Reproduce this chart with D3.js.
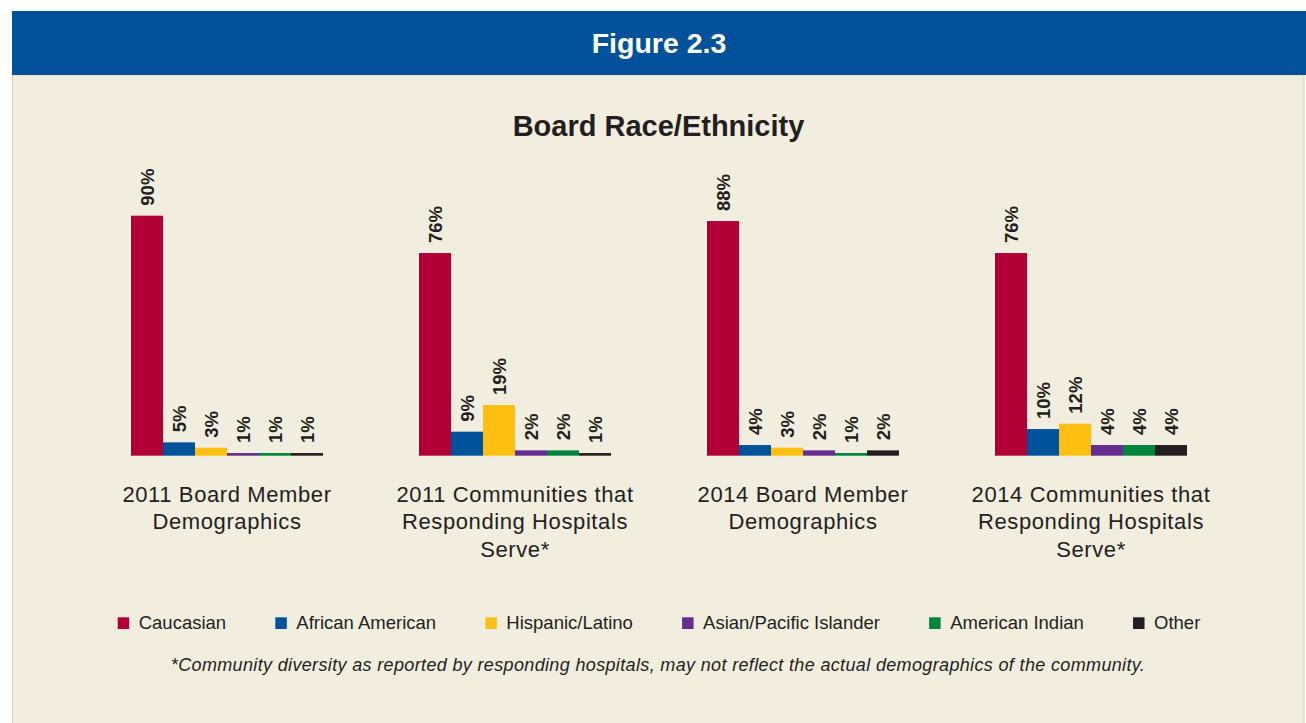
<!DOCTYPE html>
<html>
<head>
<meta charset="utf-8">
<script src="https://cdn.jsdelivr.net/npm/d3@7/dist/d3.min.js"></script>
<style>
  html, body { margin: 0; padding: 0; background: #ffffff; }
  svg { display: block; }
  text { font-family: "Liberation Sans", Arial, Helvetica, sans-serif; }
</style>
</head>
<body>
<svg id="chart" width="1306" height="723"></svg>
<script>
// ---- Data ----
const groups = [
  ["2011 Board Member", "Demographics"],
  ["2011 Communities that", "Responding Hospitals", "Serve*"],
  ["2014 Board Member", "Demographics"],
  ["2014 Communities that", "Responding Hospitals", "Serve*"]
];
const series = ["Caucasian", "African American", "Hispanic/Latino", "Asian/Pacific Islander", "American Indian", "Other"];
const colors = ["#b00036", "#00529b", "#fdc012", "#662d91", "#00843e", "#231f20"];
const caucasian       = [90, 76, 88, 76];
const africanAmerican = [5, 9, 4, 10];
const hispanicLatino  = [3, 19, 3, 12];
const asianPacific    = [1, 2, 2, 4];
const americanIndian  = [1, 2, 1, 4];
const other           = [1, 1, 2, 4];
const seriesValues = [caucasian, africanAmerican, hispanicLatino, asianPacific, americanIndian, other];

const figureLabel = "Figure 2.3";
const chartTitle = "Board Race/Ethnicity";
const footnote = "*Community diversity as reported by responding hospitals, may not reflect the actual demographics of the community.";

// ---- Drawing ----
const svg = d3.select("#chart");
const ink = "#231f20";

// panel background
svg.append("rect").attr("x", 12.5).attr("y", 75).attr("width", 1291.5).attr("height", 660)
  .attr("fill", "#f1eddf").attr("stroke", "#d9d0a8").attr("stroke-width", 1);
// header band
svg.append("rect").attr("x", 12).attr("y", 11).attr("width", 1294).attr("height", 64)
  .attr("fill", "#01529b");
svg.append("text").attr("x", 659).attr("y", 52.5).attr("text-anchor", "middle")
  .attr("fill", "#ffffff").attr("font-weight", "bold").attr("font-size", 28.5)
  .text(figureLabel);

// title
svg.append("text").attr("x", 658.5).attr("y", 135.8).attr("text-anchor", "middle")
  .attr("fill", ink).attr("font-weight", "bold").attr("font-size", 29)
  .text(chartTitle);

// scales
const gIdx = d3.range(groups.length);
const x0 = d3.scaleBand().domain(gIdx).range([131, 1187]).paddingInner(1/3).paddingOuter(0);
const x1 = d3.scaleBand().domain(d3.range(series.length)).range([0, x0.bandwidth()]).padding(0);
const y = d3.scaleLinear().domain([0, 90]).range([455.7, 215.7]);

const barData = [];
gIdx.forEach(g => series.forEach((s, si) => barData.push({g, si, v: seriesValues[si][g]})));

const bars = svg.append("g");
bars.selectAll("rect").data(barData).join("rect")
  .attr("x", d => x0(d.g) + x1(d.si))
  .attr("width", x1.bandwidth())
  .attr("y", d => y(d.v))
  .attr("height", d => y(0) - y(d.v))
  .attr("fill", d => colors[d.si]);

bars.selectAll("text").data(barData).join("text")
  .attr("transform", d => `translate(${x0(d.g) + x1(d.si) + x1.bandwidth() / 2},${y(d.v) - 10}) rotate(-90)`)
  .attr("dy", "0.36em")
  .attr("text-anchor", "start")
  .attr("font-weight", "bold")
  .attr("font-size", 18.5)
  .attr("fill", ink)
  .text(d => d.v + "%");

// category labels
const cat = svg.append("g");
groups.forEach((lines, g) => {
  const t = cat.append("text").attr("text-anchor", "middle").attr("fill", ink)
    .attr("font-size", 22).attr("letter-spacing", 0.6);
  lines.forEach((ln, i) => {
    t.append("tspan").attr("x", x0(g) + x0.bandwidth() / 2).attr("y", 501.7 + i * 27.5).text(ln);
  });
});

// legend
const legend = svg.append("g");
const items = series.map((s, i) => {
  const g = legend.append("g");
  g.append("rect").attr("x", 0).attr("y", 617.3).attr("width", 11.5).attr("height", 11.7).attr("fill", colors[i]);
  const t = g.append("text").attr("x", 21).attr("y", 629).attr("font-size", 18.5).attr("fill", ink).text(s);
  return {g, w: 21 + t.node().getComputedTextLength()};
});
const gap = 49.2;
const total = d3.sum(items, d => d.w) + gap * (items.length - 1);
let cx = 659 - total / 2;
items.forEach(it => { it.g.attr("transform", `translate(${cx},0)`); cx += it.w + gap; });

// footnote
svg.append("text").attr("x", 658).attr("y", 671).attr("text-anchor", "middle")
  .attr("font-style", "italic").attr("font-size", 18).attr("letter-spacing", 0.35).attr("fill", ink)
  .text(footnote);
</script>
</body>
</html>
